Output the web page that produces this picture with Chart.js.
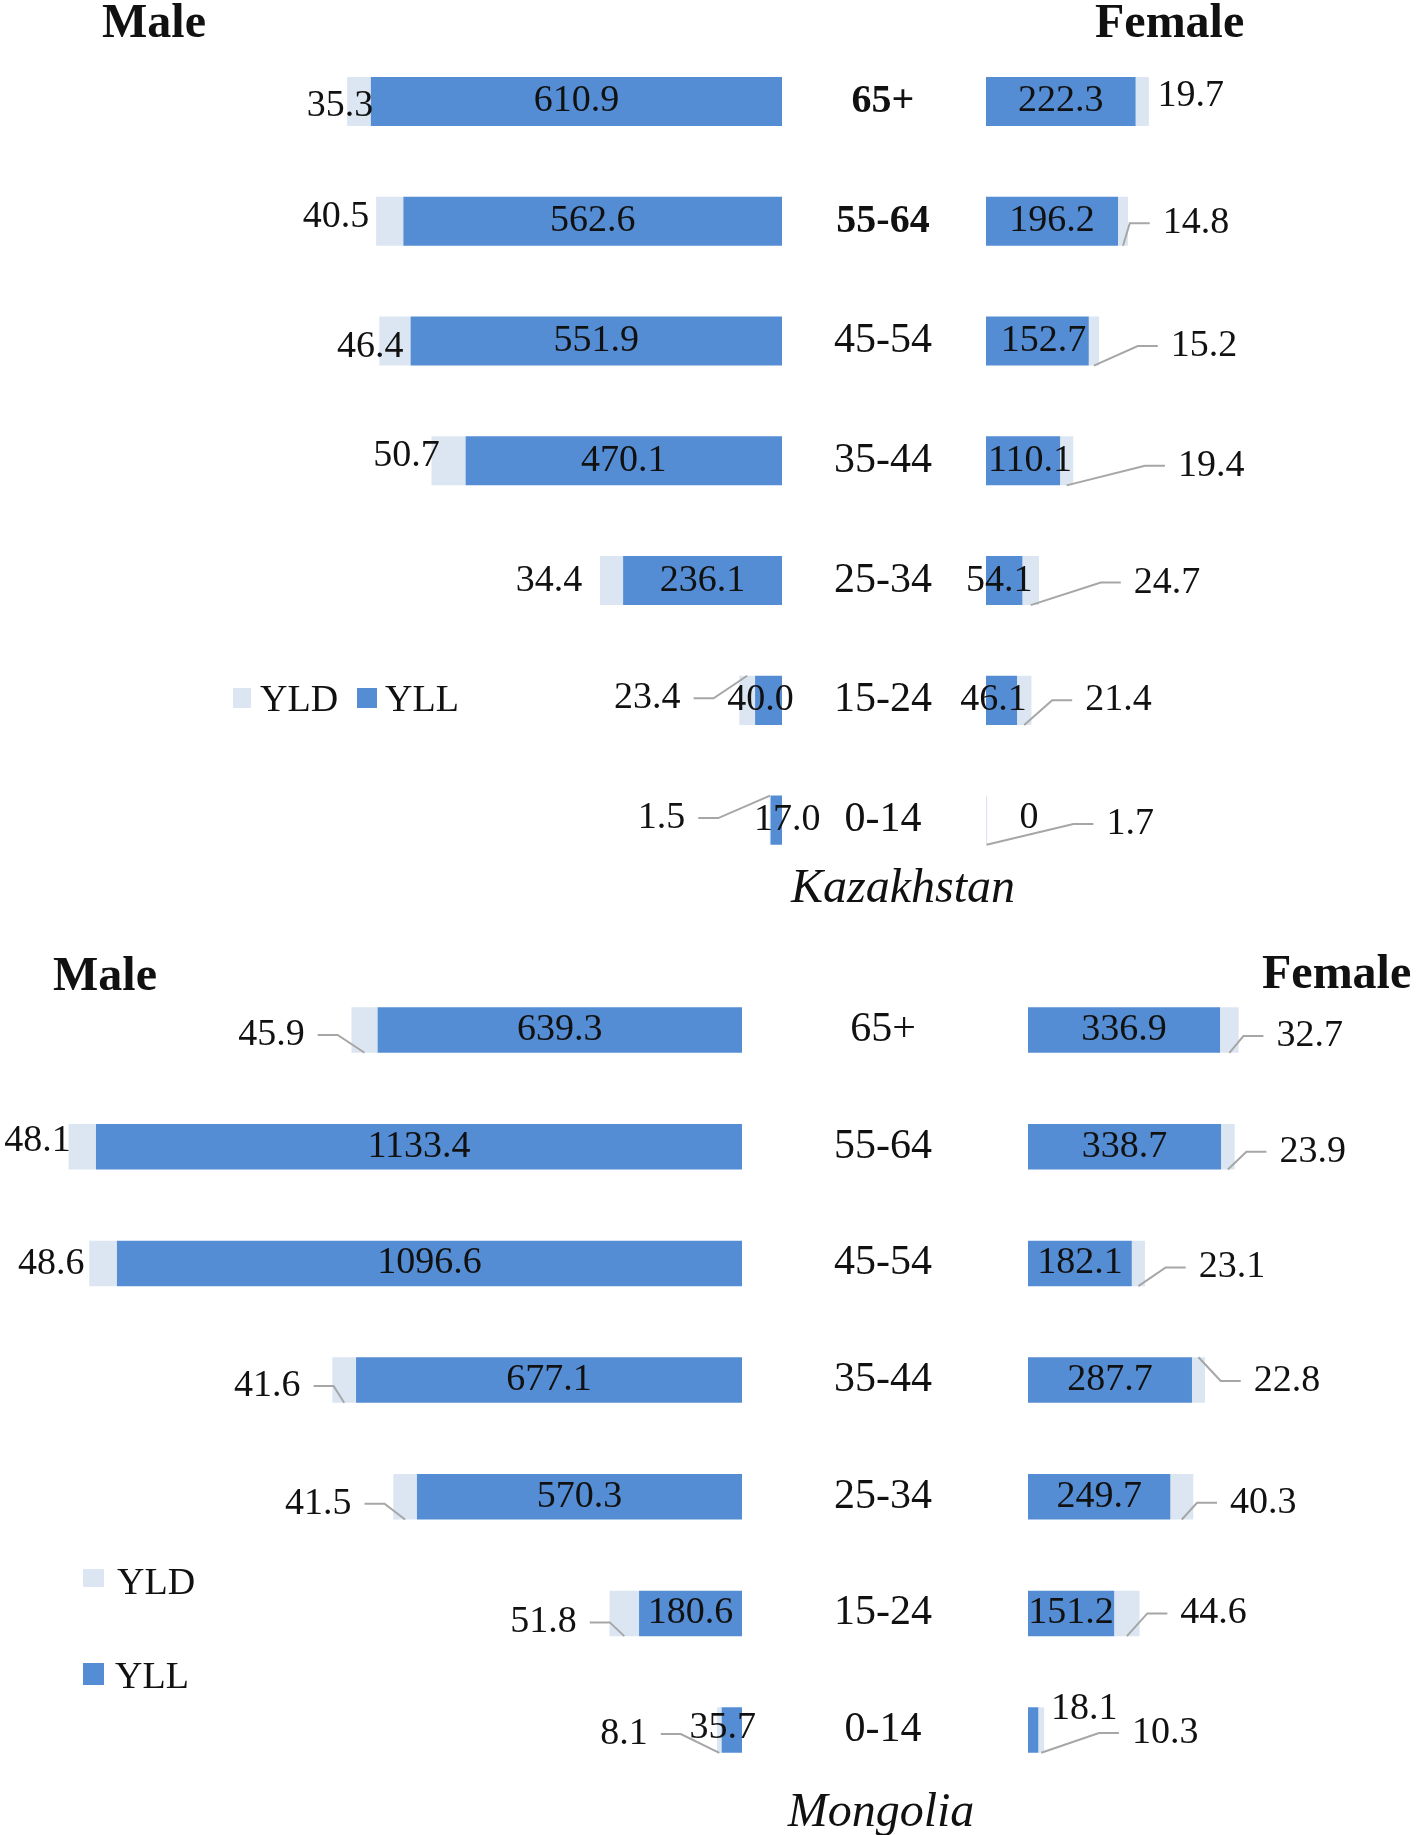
<!DOCTYPE html>
<html lang="en">
<head>
  <meta charset="UTF-8">
  <title>YLL and YLD by age group and sex - Kazakhstan and Mongolia</title>
  <script src="https://cdn.jsdelivr.net/npm/chart.js"></script>
  <style>
    html, body { margin: 0; padding: 0; background: #fff; }
    body { width: 1417px; height: 1835px; position: relative; overflow: hidden;
           font-family: "Liberation Serif", "Times New Roman", serif; color: #111; }
    canvas { position: absolute; left: 0; }
    .txt { position: absolute; line-height: 1; white-space: nowrap; }
    .title { font-size: 48px; font-weight: bold; }
    .country { font-size: 48px; font-style: italic; width: 400px; text-align: center; }
    .leg { font-size: 38px; }
    .box { position: absolute; }
    .yld { background: #DCE6F2; }
    .yll { background: #548DD4; }
  </style>
</head>
<body>
  <canvas id="kzChart" width="1417" height="915" style="top:0"></canvas>
  <canvas id="mnChart" width="1417" height="920" style="top:915px"></canvas>

  <!-- Kazakhstan -->
  <div class="txt title" style="left:102px; top:-3px">Male</div>
  <div class="txt title" style="left:1095px; top:-3px">Female</div>
  <div class="box yld" style="left:233px; top:688px; width:18px; height:20px"></div>
  <div class="txt leg" style="left:260px; top:679px">YLD</div>
  <div class="box yll" style="left:357px; top:688px; width:20px; height:20px"></div>
  <div class="txt leg" style="left:385px; top:679px">YLL</div>
  <div class="txt country" style="left:703px; top:862px">Kazakhstan</div>

  <!-- Mongolia -->
  <div class="txt title" style="left:53px; top:950px">Male</div>
  <div class="txt title" style="left:1262px; top:948px">Female</div>
  <div class="box yld" style="left:83px; top:1569px; width:21px; height:18px"></div>
  <div class="txt leg" style="left:117px; top:1562px">YLD</div>
  <div class="box yll" style="left:83px; top:1663px; width:21px; height:22px"></div>
  <div class="txt leg" style="left:115px; top:1656px">YLL</div>
  <div class="txt country" style="left:681px; top:1786px">Mongolia</div>

  <script>
    // ---- data (top row first) ----
    const ageGroups = ['65+', '55-64', '45-54', '35-44', '25-34', '15-24', '0-14'];

    const kzMaleYll   = [610.9, 562.6, 551.9, 470.1, 236.1, 40.0, 17.0];
    const kzMaleYld   = [35.3, 40.5, 46.4, 50.7, 34.4, 23.4, 1.5];
    const kzFemaleYll = [222.3, 196.2, 152.7, 110.1, 54.1, 46.1, 0];
    const kzFemaleYld = [19.7, 14.8, 15.2, 19.4, 24.7, 21.4, 1.7];

    const mnMaleYll   = [639.3, 1133.4, 1096.6, 677.1, 570.3, 180.6, 35.7];
    const mnMaleYld   = [45.9, 48.1, 48.6, 41.6, 41.5, 51.8, 8.1];
    const mnFemaleYll = [336.9, 338.7, 182.1, 287.7, 249.7, 151.2, 18.1];
    const mnFemaleYld = [32.7, 23.9, 23.1, 22.8, 40.3, 44.6, 10.3];

    // ---- look ----
    const PAGE_W = 1417;
    const YLL_COLOR = '#548DD4';
    const YLD_COLOR = '#DCE6F2';
    const LEADER_COLOR = '#A6A6A6';
    const TEXT_COLOR = '#111';
    const FONT = '"Liberation Serif", "Times New Roman", serif';

    // label nudges in px (the original labels were dragged by hand)
    // leader: 0 none, 1 from bar bottom, -1 from bar top
    const kzMaleLabels = {
      yldDx: [-7, -40, -9, -25, -51, -92, -108], yldDy: [5, -4, 6, -5, 0, -2, -2],
      leader: [0, 0, 0, 0, 0, -1, -1],
      yllDx: [0, 0, 0, 0, 0, -8, 11], yllDy: [0, 0, 0, 0, 0, 0, 0]
    };
    const kzFemaleLabels = {
      yldDx: [42, 68, 105, 138, 128, 87, 143], yldDy: [-5, 2, 5, 5, 2, 0, 4],
      leader: [0, 1, 1, 1, 1, 1, 1],
      yllDx: [0, 0, 6, 7, -5, -8, 43], yllDy: [0, 0, 0, 0, 0, 0, -2]
    };
    const mnMaleLabels = {
      yldDx: [-80, -31, -38, -65, -75, -66, -93], yldDy: [5, -6, 1, 6, 7, 9, 4],
      leader: [1, 0, 0, 1, 1, 1, 1],
      yllDx: [0, 0, 0, 0, 0, 0, -9], yllDy: [0, 0, 0, 0, 0, 0, -2]
    };
    const mnFemaleLabels = {
      yldDx: [71, 78, 87, 82, 70, 74, 121], yldDy: [6, 5, 4, 1, 6, 0, 3],
      leader: [1, 1, 1, -1, 1, 1, 1],
      yllDx: [0, 0, 0, 0, 0, 0, 51], yllDy: [0, 0, 0, 0, 0, 0, -21]
    };

    function fmt(v) {
      return v === 0 ? '0' : v.toFixed(1);
    }

    // min/max so that value 0 lands on zeroPx with ppu pixels per unit
    function valueAxis(zeroPx, ppu, reverse) {
      const left = zeroPx / ppu, right = (PAGE_W - zeroPx) / ppu;
      const range = reverse ? { min: -right, max: left } : { min: -left, max: right };
      return Object.assign({ type: 'linear', axis: 'x', stacked: true, reverse: reverse, display: false }, range);
    }

    // draws age labels in the middle, values on bars and YLD callouts with leader lines
    const pyramidLabels = {
      id: 'pyramidLabels',
      afterDatasetsDraw(chart, args, opts) {
        const ctx = chart.ctx;
        const yScale = chart.scales.y;
        ctx.save();
        ctx.textAlign = 'center';
        ctx.textBaseline = 'middle';
        ctx.fillStyle = TEXT_COLOR;

        chart.data.labels.forEach((lab, i) => {
          const bold = opts.boldRows.includes(i);
          ctx.font = (bold ? 'bold 40px ' : '42px ') + FONT;
          ctx.fillText(lab, opts.centerX, yScale.getPixelForValue(i));
        });

        ctx.font = '38px ' + FONT;
        opts.sides.forEach(side => {
          const yllBars = chart.getDatasetMeta(side.yll).data;
          const yldBars = chart.getDatasetMeta(side.yld).data;
          const yllVals = chart.data.datasets[side.yll].data;
          const yldVals = chart.data.datasets[side.yld].data;
          const L = side.labels;

          yllBars.forEach((bar, i) => {
            const y = bar.y;
            const half = bar.height / 2;
            ctx.fillStyle = TEXT_COLOR;
            ctx.fillText(fmt(yllVals[i]), (bar.x + bar.base) / 2 + L.yllDx[i], y + L.yllDy[i]);

            const seg = yldBars[i];
            const txt = fmt(yldVals[i]);
            const lx = seg.x + L.yldDx[i];
            const ly = y + L.yldDy[i];
            const w = ctx.measureText(txt).width;

            if (L.leader[i]) {
              const dir = Math.sign(L.yldDx[i]);
              const edge = lx - dir * w / 2;
              const sx = (seg.x + seg.base) / 2;
              const sy = y + L.leader[i] * half;
              let mid, end;
              if (dir > 0) {
                mid = Math.max(sx + 6, edge - 33);
                end = Math.min(Math.max(mid + 8, edge - 13), edge - 3);
                mid = Math.min(mid, end - 5);
              } else {
                mid = Math.min(sx - 6, edge + 33);
                end = Math.max(Math.min(mid - 8, edge + 13), edge + 3);
                mid = Math.max(mid, end + 5);
              }
              ctx.strokeStyle = LEADER_COLOR;
              ctx.lineWidth = 2;
              ctx.beginPath();
              ctx.moveTo(sx, sy);
              ctx.lineTo(mid, ly);
              ctx.lineTo(end, ly);
              ctx.stroke();
            }
            ctx.fillStyle = TEXT_COLOR;
            ctx.fillText(txt, lx, ly);
          });
        });
        ctx.restore();
      }
    };

    function pyramidChart(canvasId, maleYll, maleYld, femaleYll, femaleYld, geom) {
      const ctx = document.getElementById(canvasId).getContext('2d');
      return new Chart(ctx, {
        type: 'bar',
        data: {
          labels: ageGroups,
          datasets: [
            { label: 'YLL', data: maleYll, xAxisID: 'xm', backgroundColor: YLL_COLOR },
            { label: 'YLD', data: maleYld, xAxisID: 'xm', backgroundColor: YLD_COLOR },
            { label: 'YLL', data: femaleYll, xAxisID: 'xf', backgroundColor: YLL_COLOR },
            { label: 'YLD', data: femaleYld, xAxisID: 'xf', backgroundColor: YLD_COLOR }
          ]
        },
        options: {
          indexAxis: 'y',
          responsive: false,
          animation: false,
          events: [],
          grouped: false,
          categoryPercentage: 1,
          barPercentage: geom.barPct,
          borderWidth: 0,
          layout: { padding: { left: 0, right: 0, top: geom.top, bottom: geom.bottom } },
          scales: {
            y: { type: 'category', display: false },
            xm: valueAxis(geom.maleZero, geom.ppu, true),
            xf: valueAxis(geom.femaleZero, geom.ppu, false)
          },
          plugins: {
            legend: { display: false },
            tooltip: { enabled: false },
            pyramidLabels: {
              centerX: geom.centerX,
              boldRows: geom.boldRows,
              sides: [
                { yll: 0, yld: 1, labels: geom.maleLabels },
                { yll: 2, yld: 3, labels: geom.femaleLabels }
              ]
            }
          }
        },
        plugins: [pyramidLabels]
      });
    }

    pyramidChart('kzChart', kzMaleYll, kzMaleYld, kzFemaleYll, kzFemaleYld, {
      maleZero: 782, femaleZero: 986, ppu: 0.673, centerX: 883,
      top: 41.6, bottom: 35, barPct: 0.41, boldRows: [0, 1],
      maleLabels: kzMaleLabels, femaleLabels: kzFemaleLabels
    });

    pyramidChart('mnChart', mnMaleYll, mnMaleYld, mnFemaleYll, mnFemaleYld, {
      maleZero: 742, femaleZero: 1028, ppu: 0.570, centerX: 883,
      top: 56.7, bottom: 46.6, barPct: 0.39, boldRows: [],
      maleLabels: mnMaleLabels, femaleLabels: mnFemaleLabels
    });
  </script>
</body>
</html>
